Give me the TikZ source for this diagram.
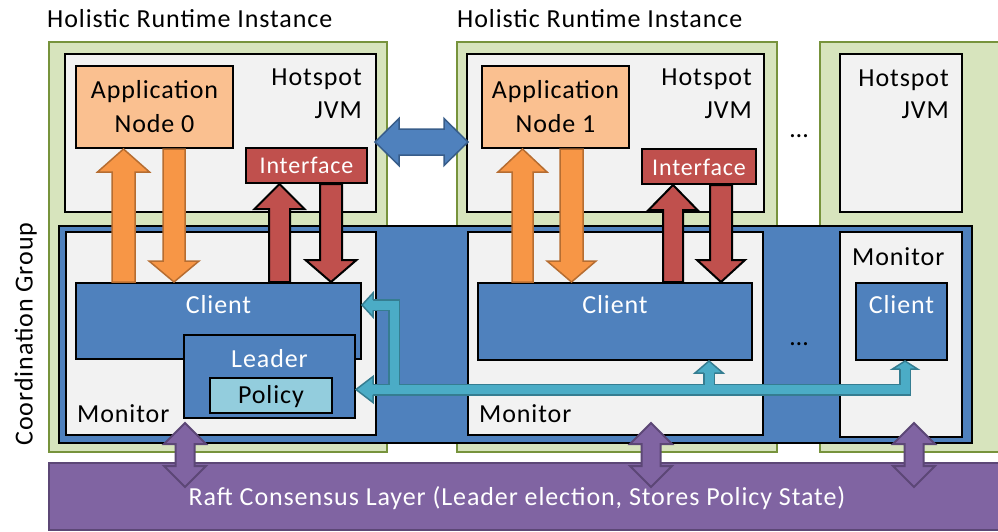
\documentclass[tikz,border=0pt]{standalone}
\usepackage{fontspec}
\setmainfont{Carlito}[LetterSpace=3.5]
\usetikzlibrary{calc}
\definecolor{gfill}{HTML}{D7E4BD}
\definecolor{gline}{HTML}{77933C}
\definecolor{jvmfill}{HTML}{F2F2F2}
\definecolor{blueA}{HTML}{4F81BD}
\definecolor{blueB}{HTML}{385D8A}
\definecolor{orangeA}{HTML}{F79646}
\definecolor{orangeB}{HTML}{B66D31}
\definecolor{appfill}{HTML}{FAC090}
\definecolor{redA}{HTML}{C0504D}
\definecolor{tealA}{HTML}{4BACC6}
\definecolor{tealB}{HTML}{357D91}
\definecolor{purpleA}{HTML}{8064A2}
\definecolor{purpleB}{HTML}{5C4776}
\definecolor{policyfill}{HTML}{93CDDD}
% point along/across a direction: needs \x1,\y1,\n3,\n4 from a let
\newcommand{\ap}[2]{({\x1+(#1)*\n3-(#2)*\n4},{\y1+(#1)*\n4+(#2)*\n3})}
% single block arrow: style, from, to, shaft half width, head half width, head length
\newcommand{\barrow}[6]{%
  \path[#1] let \p1=(#2), \p2=(#3), \n1={veclen(\x2-\x1,\y2-\y1)},
    \n3={(\x2-\x1)/\n1}, \n4={(\y2-\y1)/\n1}, \n5={\n1-(#6)} in
    \ap{0}{#4} -- \ap{\n5}{#4} -- \ap{\n5}{#5} -- (\p2) -- \ap{\n5}{-#5}
    -- \ap{\n5}{-#4} -- \ap{0}{-#4} -- cycle;}
% double block arrow
\newcommand{\dbarrow}[6]{%
  \path[#1] let \p1=(#2), \p2=(#3), \n1={veclen(\x2-\x1,\y2-\y1)},
    \n3={(\x2-\x1)/\n1}, \n4={(\y2-\y1)/\n1}, \n5={\n1-(#6)} in
    (\p1) -- \ap{#6}{#5} -- \ap{#6}{#4} -- \ap{\n5}{#4} -- \ap{\n5}{#5} -- (\p2)
    -- \ap{\n5}{-#5} -- \ap{\n5}{-#4} -- \ap{#6}{-#4} -- \ap{#6}{-#5} -- cycle;}
% open arrow head on a stroked shaft: base centre, tip, shaft half, head half
\newcommand{\ahead}[4]{%
  \fill[tealA] let \p1=(#1), \p2=(#2), \n1={veclen(\x2-\x1,\y2-\y1)},
    \n3={(\x2-\x1)/\n1}, \n4={(\y2-\y1)/\n1} in
    \ap{0}{#4} -- (\p2) -- \ap{0}{-#4} -- cycle;
  \draw[tealB, line width=1.5pt, line join=miter] let \p1=(#1), \p2=(#2), \n1={veclen(\x2-\x1,\y2-\y1)},
    \n3={(\x2-\x1)/\n1}, \n4={(\y2-\y1)/\n1} in
    \ap{0}{#3} -- \ap{0}{#4} -- (\p2) -- \ap{0}{-#4} -- \ap{0}{-#3};}
\tikzset{
  box/.style={draw=black, line width=2pt, inner sep=0pt, anchor=north west},
  greenbox/.style={box, fill=gfill, draw=gline},
  graybox/.style={box, fill=jvmfill},
  bluebox/.style={box, fill=blueA},
  appbox/.style={box, fill=appfill},
  ifbox/.style={box, fill=redA},
  polbox/.style={box, fill=policyfill},
  raftbox/.style={box, fill=purpleA, draw=purpleB},
  txt/.style={inner sep=0pt, font=\fontsize{26}{30}\selectfont},
  stxt/.style={inner sep=0pt, font=\fontsize{24}{28}\selectfont},
  orangearrow/.style={fill=orangeA, draw=orangeB, line width=1.5pt, line join=miter},
  redarrow/.style={fill=redA, draw=black, line width=2pt, line join=miter},
  bluearrow/.style={fill=blueA, draw=blueB, line width=1.5pt, line join=miter},
  purplearrow/.style={fill=purpleA, draw=purpleB, line width=2pt, line join=miter},
  tealouter/.style={draw=tealB, line width=12pt, line join=miter},
  tealinner/.style={draw=tealA, line width=9pt, line join=miter},
}
\begin{document}
\begin{tikzpicture}[x=1pt,y=1pt]
\useasboundingbox (0,0) rectangle (998,-531);
\clip (0,0) rectangle (998,-531);
% holistic runtime instances
\node[greenbox, minimum width=338pt, minimum height=410pt] (g1) at (48,-41) {};
\node[greenbox, minimum width=320pt, minimum height=410pt] (g2) at (456,-41) {};
\node[greenbox, minimum width=220pt, minimum height=410pt] (g3) at (819,-41) {};
% JVMs
\node[graybox, minimum width=311pt, minimum height=158pt] (jvm1) at (64,-53) {};
\node[graybox, minimum width=297pt, minimum height=158pt] (jvm2) at (466,-53) {};
\node[graybox, minimum width=122pt, minimum height=158pt] (jvm3) at (839,-53) {};
% coordination group
\node[bluebox, minimum width=913pt, minimum height=217pt] (coord) at (58,-225) {};
% monitors
\node[graybox, minimum width=310pt, minimum height=203pt] (mon1) at (65,-231) {};
\node[graybox, minimum width=295pt, minimum height=203pt] (mon2) at (467,-231) {};
\node[graybox, minimum width=122pt, minimum height=205pt] (mon3) at (839,-231) {};
% clients
\node[bluebox, minimum width=285pt, minimum height=76pt] (cl1) at (75,-282) {};
\node[bluebox, minimum width=274pt, minimum height=77pt] (cl2) at (477,-282) {};
\node[bluebox, minimum width=91pt, minimum height=77pt] (cl3) at (855,-282) {};
% leader and policy
\node[bluebox, minimum width=171pt, minimum height=83pt] (leader) at (183,-334) {};
\node[polbox, minimum width=122pt, minimum height=35pt] (policy) at (209,-377) {};
% application nodes and interfaces
\node[appbox, minimum width=157pt, minimum height=82pt] (app0) at (75,-65) {};
\node[appbox, minimum width=147pt, minimum height=82pt] (app1) at (481,-65) {};
\node[ifbox, minimum width=121pt, minimum height=35pt] (if0) at (245,-147) {};
\node[ifbox, minimum width=114pt, minimum height=35pt] (if1) at (641,-148) {};
% orange arrows
\barrow{orangearrow}{123.5,0 |- cl1.north}{123.5,0 |- app0.south}{11.5}{26}{23}
\barrow{orangearrow}{174,0 |- app0.south}{174,0 |- cl1.north}{11}{25}{21}
\barrow{orangearrow}{522.5,0 |- cl2.north}{522.5,0 |- app1.south}{10.5}{24.5}{23}
\barrow{orangearrow}{571.5,0 |- app1.south}{571.5,0 |- cl2.north}{11.5}{24.5}{21}
% red arrows
\barrow{redarrow}{279.5,0 |- cl1.north}{279.5,0 |- if0.south}{10.5}{25}{25}
\barrow{redarrow}{331,0 |- if0.south}{331,0 |- cl1.north}{11}{25.5}{22}
\barrow{redarrow}{673,0 |- cl2.north}{673,0 |- if1.south}{10}{24.5}{25}
\barrow{redarrow}{721,0 |- if1.south}{721,0 |- cl2.north}{11}{24}{22}
% JVM to JVM
\coordinate (bl) at ($(jvm1.east |- 0,-142)+(-2,0)$);
\coordinate (br) at ($(jvm2.west |- 0,-142)+(2,0)$);
\dbarrow{bluearrow}{bl}{br}{13}{23.5}{24}
% teal arrows from leader to clients
\coordinate (tL) at (leader.east |- 0,-389.5);
\coordinate (tLb) at (373,-389.5);
\coordinate (tC1) at (cl1.east |- 0,-305);
\coordinate (tC1b) at (373,-305);
\coordinate (tC2) at (709,0 |- cl2.south);
\coordinate (tC2b) at (709,-373);
\coordinate (tC3) at (905,0 |- cl3.south);
\coordinate (tC3b) at (905,-369);
\coordinate (j1) at (394,-389.5);
\coordinate (j2) at (709,-389.5);
\coordinate (jr) at (905,-389.5);
\coordinate (c1k) at (394,-305);
\draw[tealouter] (tLb) -- (jr) -- (tC3b);
\draw[tealouter] (j2) -- (tC2b);
\draw[tealouter] (j1) -- (c1k) -- (tC1b);
\draw[tealinner] (tLb) -- (jr) -- (tC3b);
\draw[tealinner] (j2) -- (tC2b);
\draw[tealinner] (j1) -- (c1k) -- (tC1b);
\ahead{tLb}{tL}{5.25}{13}
\ahead{tC1b}{tC1}{5.25}{12}
\ahead{tC2b}{tC2}{5.25}{14}
\ahead{tC3b}{tC3}{5.25}{12.5}
% raft layer
\node[raftbox, minimum width=980pt, minimum height=67pt] (raft) at (48,-462) {};
% purple arrows
\coordinate (p1t) at (185,-423); \coordinate (p1b) at (185,-487);
\coordinate (p2t) at (651,-423); \coordinate (p2b) at (651,-487);
\coordinate (p3t) at (914,-423); \coordinate (p3b) at (914,-487);
\dbarrow{purplearrow}{p1t}{p1b}{9.5}{21}{21}
\dbarrow{purplearrow}{p2t}{p2b}{9.5}{21}{21}
\dbarrow{purplearrow}{p3t}{p3b}{9.5}{21}{21}
% texts
\node[txt, anchor=base west] (h1) at (47,-27) {Holistic Runtime Instance};
\node[txt, anchor=base west] (h2) at (457,-27) {Holistic Runtime Instance};
\node[txt, anchor=base east] (hs1) at (362,-85) {Hotspot};
\node[txt, anchor=base east] (jv1) at (362,-118) {JVM};
\node[txt, anchor=base east] (hs2) at (752,-85) {Hotspot};
\node[txt, anchor=base east] (jv2) at (752,-118) {JVM};
\node[txt, anchor=base east] (hs3) at (949,-86) {Hotspot};
\node[txt, anchor=base east] (jv3) at (949,-118) {JVM};
\node[txt, anchor=base] (a0a) at (app0.north |- 0,-98) {Application};
\node[txt, anchor=base] (a0b) at (app0.north |- 0,-132) {Node 0};
\node[txt, anchor=base] (a1a) at (app1.north |- 0,-98) {Application};
\node[txt, anchor=base] (a1b) at (app1.north |- 0,-132) {Node 1};
\node[stxt, anchor=base, text=white] (if0t) at (if0.north |- 0,-173) {Interface};
\node[stxt, anchor=base, text=white] (if1t) at (if1.north |- 0,-175) {Interface};
\node[txt, anchor=base, text=white] (c1t) at (cl1.north |- 0,-313) {Client};
\node[txt, anchor=base, text=white] (c2t) at (cl2.north |- 0,-313) {Client};
\node[txt, anchor=base, text=white] (c3t) at (cl3.north |- 0,-313) {Client};
\node[txt, anchor=base, text=white] (ldt) at (leader.north |- 0,-367) {Leader};
\node[txt, anchor=base] (polt) at (policy.north |- 0,-403) {Policy};
\node[txt, anchor=base west] (m1t) at (77,-422) {Monitor};
\node[txt, anchor=base west] (m2t) at (479,-422) {Monitor};
\node[txt, anchor=base west] (m3t) at (852,-265) {Monitor};
\node[txt, anchor=base] (dots1) at (799,-137) {…};
\node[txt, anchor=base] (dots2) at (799,-345) {…};
\node[txt, anchor=base, text=white] (raftt) at (517,-505) {Raft Consensus Layer (Leader election, Stores Policy State)};
\node[txt, anchor=base, rotate=90] (cgt) at (32.5,-334) {Coordination Group};
\end{tikzpicture}
\end{document}
